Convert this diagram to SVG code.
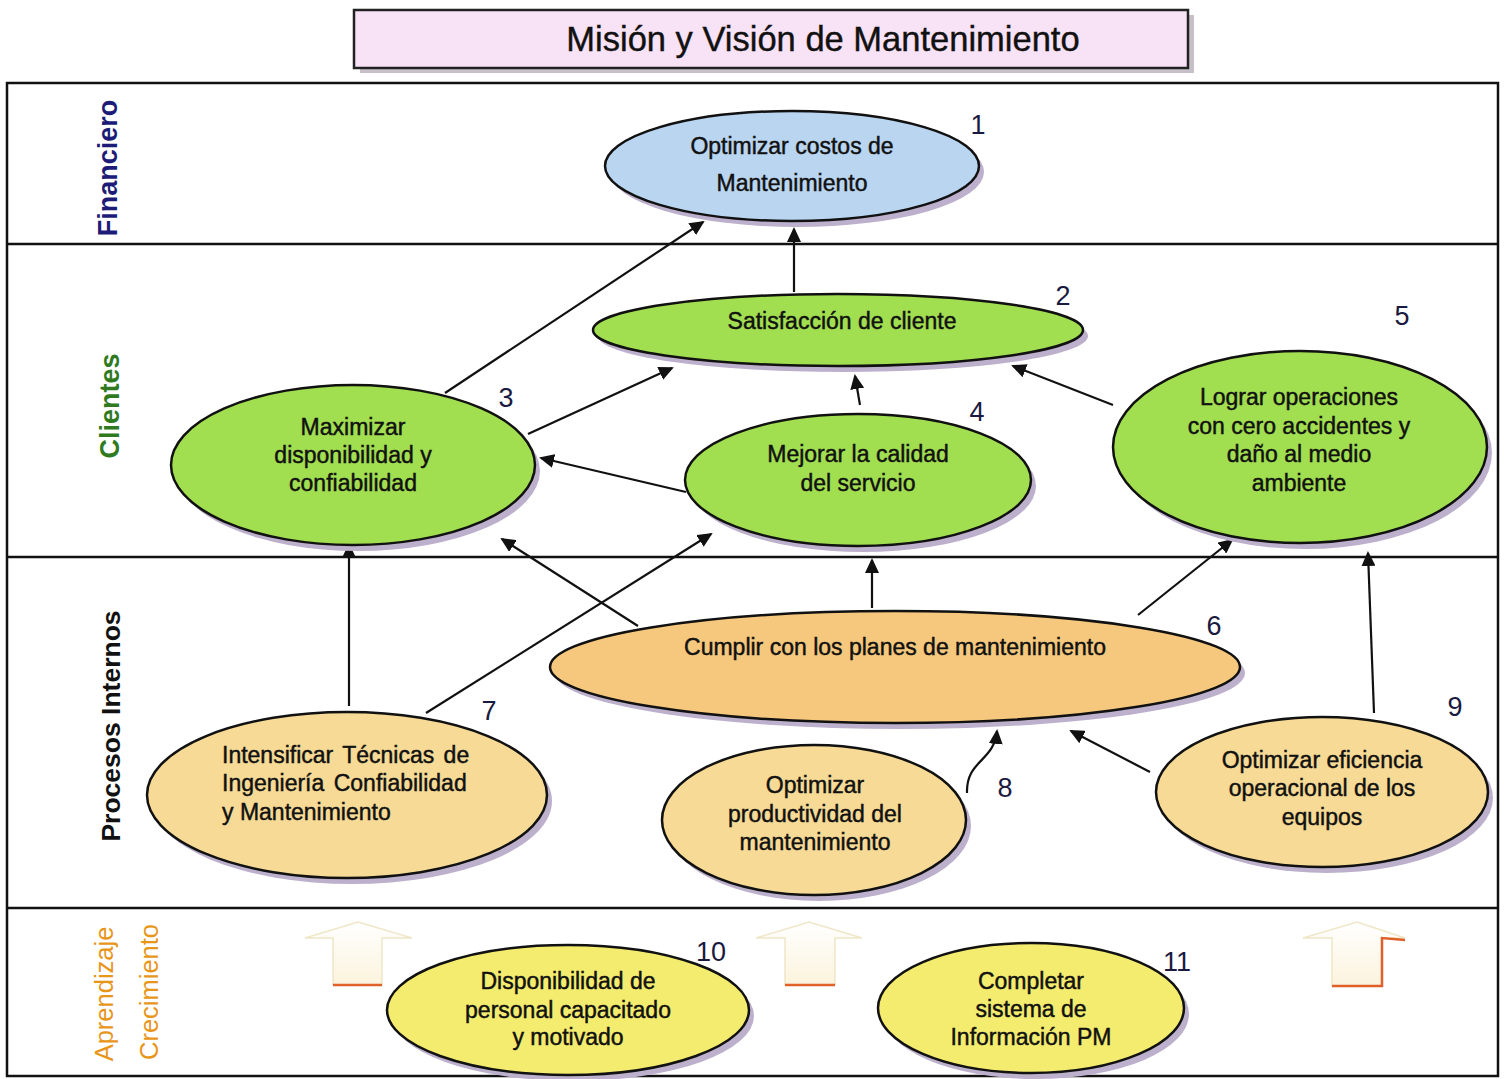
<svg xmlns="http://www.w3.org/2000/svg" width="1504" height="1079" viewBox="0 0 1504 1079">
<style>
  .t{font-family:"Liberation Sans",Arial,sans-serif;font-size:23px;fill:#111;stroke:#111;stroke-width:0.45}
  .m{text-anchor:middle}
  .s{text-anchor:start}
  .n{font-family:"Liberation Sans",Arial,sans-serif;font-size:27px;fill:#1a1a40;text-anchor:middle}
  .sh{fill:#bcb0cc}
  .e{stroke:#111;stroke-width:2.5}
  .c{stroke:#111;stroke-width:2.2;fill:none;marker-end:url(#ah)}
  .lane{stroke:#111;stroke-width:2.5;fill:none}
  .blk{fill:url(#bg);stroke:#f0e6c8;stroke-width:1.5}
</style>
<defs>
  <marker id="ah" markerWidth="15" markerHeight="14" refX="13" refY="7" orient="auto" markerUnits="userSpaceOnUse" viewBox="0 0 15 14">
    <path d="M0,0 L15,7 L0,14 z" fill="#111"/>
  </marker>
  <linearGradient id="bg" x1="0" y1="0" x2="0" y2="1">
    <stop offset="0" stop-color="#ffffff"/>
    <stop offset="1" stop-color="#fbf3dc"/>
  </linearGradient>
</defs>
<rect width="1504" height="1079" fill="#ffffff"/>

<!-- title -->
<g id="title">
  <rect x="360" y="15" width="834" height="58" fill="#c8c0c8"/>
  <rect x="354" y="10" width="834" height="58" fill="#f8e2f6" stroke="#222" stroke-width="2.5"/>
  <text x="823" y="51" font-family="'Liberation Sans',Arial,sans-serif" font-size="34.5" text-anchor="middle" fill="#111" stroke="#111" stroke-width="0.4">Misión y Visión de Mantenimiento</text>
</g>

<!-- lanes -->
<g id="lanes">
  <rect x="7" y="83" width="1491" height="993" class="lane"/>
  <line x1="7" y1="244" x2="1498" y2="244" class="lane"/>
  <line x1="7" y1="557" x2="1498" y2="557" class="lane"/>
  <line x1="7" y1="908" x2="1498" y2="908" class="lane"/>
  <text transform="translate(117,168) rotate(-90)" font-family="'Liberation Sans',Arial,sans-serif" font-size="27" font-weight="bold" fill="#1c1c78" text-anchor="middle">Financiero</text>
  <text transform="translate(119,406) rotate(-90)" font-family="'Liberation Sans',Arial,sans-serif" font-size="27" font-weight="bold" fill="#2f7a1f" text-anchor="middle">Clientes</text>
  <text transform="translate(120,726) rotate(-90)" font-family="'Liberation Sans',Arial,sans-serif" font-size="26.5" font-weight="bold" fill="#111" text-anchor="middle">Procesos Internos</text>
  <text transform="translate(113,994) rotate(-90)" font-family="'Liberation Sans',Arial,sans-serif" font-size="25.5" fill="#e8961a" text-anchor="middle">Aprendizaje</text>
  <text transform="translate(158,992) rotate(-90)" font-family="'Liberation Sans',Arial,sans-serif" font-size="25.5" fill="#e8961a" text-anchor="middle">Crecimiento</text>
</g>

<!-- block arrows -->
<g id="blockarrows">
  <path class="blk" d="M358,922 L412,938 L382,938 L382,985 L333,985 L333,938 L305,938 Z"/>
  <line x1="333" y1="985" x2="382" y2="985" stroke="#e0602a" stroke-width="2.5"/>
  <path class="blk" d="M809,922 L862,938 L835,938 L835,985 L785,985 L785,938 L756,938 Z"/>
  <line x1="785" y1="985" x2="835" y2="985" stroke="#e0602a" stroke-width="2.5"/>
  <path class="blk" d="M1357,922 L1405,938 L1382,938 L1382,986 L1332,986 L1332,938 L1303,938 Z"/>
  <path d="M1332,986 L1382,986 L1382,938 L1405,940" fill="none" stroke="#e0602a" stroke-width="2.5"/>
</g>

<!-- connectors -->
<g id="connectors">
  <line class="c" x1="445" y1="393" x2="703" y2="222"/>
  <line class="c" x1="794" y1="292" x2="794" y2="229"/>
  <line class="c" x1="528" y1="434" x2="672" y2="368"/>
  <line class="c" x1="860" y1="405" x2="855" y2="376"/>
  <line class="c" x1="1113" y1="405" x2="1013" y2="366"/>
  <line class="c" x1="686" y1="492" x2="541" y2="458"/>
  <line class="c" x1="638" y1="626" x2="502" y2="539"/>
  <line class="c" x1="426" y1="713" x2="711" y2="534"/>
  <line class="c" x1="349" y1="706" x2="349" y2="545"/>
  <line class="c" x1="872" y1="608" x2="872" y2="560"/>
  <line class="c" x1="1138" y1="615" x2="1232" y2="540"/>
  <line class="c" x1="1374" y1="713" x2="1368" y2="553"/>
  <path class="c" d="M967,793 C966,760 994,762 997,731"/>
  <line class="c" x1="1150" y1="772" x2="1071" y2="731"/>
</g>

<!-- nodes -->
<g id="n1">
  <ellipse class="sh" cx="797" cy="172" rx="187" ry="55"/>
  <ellipse class="e" cx="792" cy="166" rx="187" ry="55" fill="#b9d5ef"/>
  <text class="t m" x="792" y="154">Optimizar costos de</text>
  <text class="t m" x="792" y="191">Mantenimiento</text>
  <text class="n" x="978" y="134">1</text>
</g>
<g id="n2">
  <ellipse class="sh" cx="843" cy="336" rx="245" ry="36"/>
  <ellipse class="e" cx="838" cy="330" rx="245" ry="36" fill="#a1de50"/>
  <text class="t m" x="842" y="329">Satisfacción de cliente</text>
  <text class="n" x="1063" y="305">2</text>
</g>
<g id="n3">
  <ellipse class="sh" cx="358" cy="471" rx="182" ry="80"/>
  <ellipse class="e" cx="353" cy="465" rx="182" ry="80" fill="#a1de50"/>
  <text class="t m" x="353" y="435">Maximizar</text>
  <text class="t m" x="353" y="463">disponibilidad y</text>
  <text class="t m" x="353" y="491">confiabilidad</text>
  <text class="n" x="506" y="407">3</text>
</g>
<g id="n4">
  <ellipse class="sh" cx="863" cy="486" rx="173" ry="66"/>
  <ellipse class="e" cx="858" cy="480" rx="173" ry="66" fill="#a1de50"/>
  <text class="t m" x="858" y="462">Mejorar la calidad</text>
  <text class="t m" x="858" y="491">del servicio</text>
  <text class="n" x="977" y="421">4</text>
</g>
<g id="n5">
  <ellipse class="sh" cx="1305" cy="453" rx="187" ry="96"/>
  <ellipse class="e" cx="1300" cy="447" rx="187" ry="96" fill="#a1de50"/>
  <text class="t m" x="1299" y="405">Lograr operaciones</text>
  <text class="t m" x="1299" y="434">con cero accidentes y</text>
  <text class="t m" x="1299" y="462">daño al medio</text>
  <text class="t m" x="1299" y="491">ambiente</text>
  <text class="n" x="1402" y="325">5</text>
</g>
<g id="n6">
  <ellipse class="sh" cx="900" cy="673" rx="345" ry="56"/>
  <ellipse class="e" cx="895" cy="667" rx="345" ry="56" fill="#f5c87d"/>
  <text class="t m" x="895" y="655">Cumplir con los planes de mantenimiento</text>
  <text class="n" x="1214" y="635">6</text>
</g>
<g id="n7">
  <ellipse class="sh" cx="352" cy="801" rx="200" ry="83"/>
  <ellipse class="e" cx="347" cy="795" rx="200" ry="83" fill="#f6da95"/>
  <text class="t s" x="222" y="763" word-spacing="3">Intensificar Técnicas de</text>
  <text class="t s" x="222" y="791" word-spacing="3">Ingeniería Confiabilidad</text>
  <text class="t s" x="222" y="820">y Mantenimiento</text>
  <text class="n" x="489" y="720">7</text>
</g>
<g id="n8">
  <ellipse class="sh" cx="819" cy="826" rx="152" ry="75"/>
  <ellipse class="e" cx="814" cy="820" rx="152" ry="75" fill="#f6da95"/>
  <text class="t m" x="815" y="793">Optimizar</text>
  <text class="t m" x="815" y="822">productividad del</text>
  <text class="t m" x="815" y="850">mantenimiento</text>
  <text class="n" x="1005" y="797">8</text>
</g>
<g id="n9">
  <ellipse class="sh" cx="1327" cy="798" rx="166" ry="75"/>
  <ellipse class="e" cx="1322" cy="792" rx="166" ry="75" fill="#f6da95"/>
  <text class="t m" x="1322" y="768">Optimizar eficiencia</text>
  <text class="t m" x="1322" y="796">operacional de los</text>
  <text class="t m" x="1322" y="825">equipos</text>
  <text class="n" x="1455" y="716">9</text>
</g>
<g id="n10">
  <ellipse class="sh" cx="573" cy="1016" rx="181" ry="65"/>
  <ellipse class="e" cx="568" cy="1010" rx="181" ry="65" fill="#f4ec6e"/>
  <text class="t m" x="568" y="989">Disponibilidad de</text>
  <text class="t m" x="568" y="1018">personal capacitado</text>
  <text class="t m" x="568" y="1045">y motivado</text>
  <text class="n" x="711" y="961">10</text>
</g>
<g id="n11">
  <ellipse class="sh" cx="1036" cy="1014" rx="153" ry="65"/>
  <ellipse class="e" cx="1031" cy="1008" rx="153" ry="65" fill="#f4ec6e"/>
  <text class="t m" x="1031" y="989">Completar</text>
  <text class="t m" x="1031" y="1017">sistema de</text>
  <text class="t m" x="1031" y="1045">Información PM</text>
  <text class="n" x="1177" y="971">11</text>
</g>
</svg>
